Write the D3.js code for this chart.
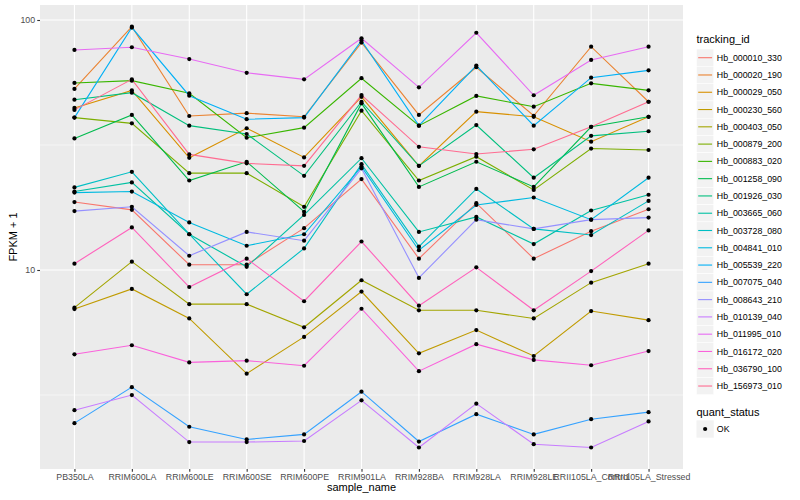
<!DOCTYPE html>
<html>
<head>
<meta charset="utf-8">
<script src="https://cdnjs.cloudflare.com/ajax/libs/d3/7.8.5/d3.min.js"></script>
<style>
  body { margin: 0; background: #ffffff; }
  text { font-family: "Liberation Sans", Arial, Helvetica, sans-serif; }
</style>
</head>
<body>
<script>
// categories on the x axis
var samples = ["PB350LA", "RRIM600LA", "RRIM600LE", "RRIM600SE", "RRIM600PE", "RRIM901LA",
    "RRIM928BA", "RRIM928LA", "RRIM928LE", "RRII105LA_Control", "RRII105LA_Stressed"];

// one line per transcript
var trackingIds = ["Hb_000010_330", "Hb_000020_190", "Hb_000029_050", "Hb_000230_560", "Hb_000403_050",
    "Hb_000879_200", "Hb_000883_020", "Hb_001258_090", "Hb_001926_030", "Hb_003665_060",
    "Hb_003728_080", "Hb_004841_010", "Hb_005539_220", "Hb_007075_040", "Hb_008643_210",
    "Hb_010139_040", "Hb_011995_010", "Hb_016172_020", "Hb_036790_100", "Hb_156973_010"];

// ggplot hue palette, 20 levels
var colours = ["#F8766D", "#EA8331", "#D89000", "#C09B00", "#A3A500", "#7CAE00", "#39B600", "#00BB4E",
    "#00BF7D", "#00C1A3", "#00BFC4", "#00BAE0", "#00B0F6", "#35A2FF", "#9590FF", "#C77CFF",
    "#E76BF3", "#FA62DB", "#FF62BC", "#FF6C91"];

// FPKM + 1, one row per tracking id, in sample order
var fpkm = [
    [18.7, 17.4, 10.5, 10.5, 14.7, 23.1, 11.1, 18.5, 11.1, 14.3, 17.5],
    [53.0, 94.0, 41.3, 42.4, 41.0, 81.2, 41.7, 64.7, 41.4, 78.2, 47.1],
    [44.5, 52.3, 28.1, 36.9, 28.2, 49.3, 26.1, 43.0, 41.0, 32.6, 41.0],
    [6.98, 8.4, 6.4, 3.85, 5.4, 8.2, 4.64, 5.75, 4.53, 6.85, 6.3],
    [7.07, 10.8, 7.3, 7.3, 5.9, 9.1, 6.9, 6.9, 6.4, 8.9, 10.6],
    [40.7, 38.6, 24.4, 24.4, 17.9, 43.4, 22.8, 28.4, 20.9, 30.6, 30.2],
    [56.0, 57.2, 50.9, 33.8, 37.1, 58.5, 37.8, 49.7, 45.0, 55.8, 52.3],
    [33.6, 41.7, 22.8, 27.1, 17.1, 46.4, 21.5, 27.1, 21.5, 37.4, 41.0],
    [48.0, 51.2, 37.8, 35.0, 23.8, 47.1, 26.1, 38.0, 23.4, 34.4, 35.9],
    [20.6, 22.4, 13.9, 10.3, 16.6, 28.0, 14.2, 16.3, 12.7, 17.3, 20.0],
    [21.4, 24.7, 13.9, 8.0, 12.2, 26.5, 12.4, 21.1, 14.6, 13.8, 18.9],
    [20.4, 20.6, 15.5, 12.5, 13.9, 25.9, 12.0, 18.2, 19.5, 15.9, 23.4],
    [40.7, 93.3, 49.8, 40.1, 40.7, 82.7, 37.8, 65.7, 37.8, 58.8, 62.9],
    [2.44, 3.4, 2.36, 2.10, 2.2, 3.26, 2.06, 2.65, 2.2, 2.53, 2.70],
    [17.2, 17.9, 11.4, 14.2, 13.1, 25.5, 9.3, 15.9, 14.6, 15.9, 16.2],
    [2.75, 3.16, 2.05, 2.05, 2.07, 3.01, 1.95, 2.92, 2.01, 1.95, 2.48],
    [75.9, 77.8, 69.8, 61.5, 57.9, 84.5, 53.8, 88.9, 50.0, 69.2, 78.2],
    [4.6, 5.0, 4.27, 4.34, 4.14, 7.0, 3.94, 5.05, 4.37, 4.16, 4.74],
    [10.6, 14.8, 8.55, 11.1, 7.5, 13.0, 7.2, 10.25, 6.9, 9.9, 14.4],
    [43.7, 57.9, 29.0, 26.7, 26.1, 50.1, 31.1, 29.1, 30.4, 37.4, 47.1]
];

var yTicks = [10, 100];
var yMinorTicks = [Math.sqrt(10), Math.sqrt(1000)];
var yDomain = [Math.pow(10, 0.204), Math.pow(10, 2.06)];
var statusLevels = ["OK"];

var panelLeft = 40, panelRight = 683, panelTop = 5, panelBottom = 469;
var textGrey = "#4D4D4D";

var svg = d3.select("body")
    .append("svg")
    .attr("width", 800)
    .attr("height", 500);

var x = d3.scalePoint()
    .domain(samples)
    .range([panelLeft, panelRight])
    .padding(0.6);

var y = d3.scaleLog()
    .domain(yDomain)
    .range([panelBottom, panelTop]);

// panel
svg.append("rect")
    .attr("x", panelLeft)
    .attr("y", panelTop)
    .attr("width", panelRight - panelLeft)
    .attr("height", panelBottom - panelTop)
    .attr("fill", "#EBEBEB");

var grid = svg.append("g");
yMinorTicks.forEach(function (t) {
    grid.append("line")
        .attr("x1", panelLeft).attr("x2", panelRight)
        .attr("y1", y(t)).attr("y2", y(t))
        .attr("stroke", "#ffffff")
        .attr("stroke-width", 0.55);
});
yTicks.forEach(function (t) {
    grid.append("line")
        .attr("x1", panelLeft).attr("x2", panelRight)
        .attr("y1", y(t)).attr("y2", y(t))
        .attr("stroke", "#ffffff")
        .attr("stroke-width", 1.1);
});
samples.forEach(function (s) {
    grid.append("line")
        .attr("x1", x(s)).attr("x2", x(s))
        .attr("y1", panelTop).attr("y2", panelBottom)
        .attr("stroke", "#ffffff")
        .attr("stroke-width", 1.1);
});

// lines
var line = d3.line()
    .x(function (d, i) { return x(samples[i]); })
    .y(function (d) { return y(d); });

var lines = svg.append("g");
fpkm.forEach(function (row, k) {
    lines.append("path")
        .attr("d", line(row))
        .attr("fill", "none")
        .attr("stroke", colours[k])
        .attr("stroke-width", 1.1);
});

// points
var pts = svg.append("g");
fpkm.forEach(function (row) {
    row.forEach(function (v, i) {
        pts.append("circle")
            .attr("cx", x(samples[i]))
            .attr("cy", y(v))
            .attr("r", 2.1)
            .attr("fill", "#000000");
    });
});

// axes
var yAxis = svg.append("g")
    .attr("transform", "translate(" + panelLeft + ",0)")
    .call(d3.axisLeft(y).tickValues(yTicks).tickFormat(d3.format("d")).tickSize(2.75).tickPadding(2.2));
var xAxis = svg.append("g")
    .attr("transform", "translate(0," + panelBottom + ")")
    .call(d3.axisBottom(x).tickSize(2.75).tickPadding(2.2));
[yAxis, xAxis].forEach(function (a) {
    a.select(".domain").remove();
    a.selectAll(".tick line").attr("stroke", "#333333").attr("stroke-width", 1.1);
    a.selectAll(".tick text")
        .attr("fill", textGrey)
        .style("font-size", "8.8px")
        .style("font-family", "'Liberation Sans', Arial, sans-serif");
});

svg.append("text")
    .attr("x", (panelLeft + panelRight) / 2)
    .attr("y", 491)
    .attr("text-anchor", "middle")
    .style("font-size", "11px")
    .text("sample_name");

svg.append("text")
    .attr("transform", "translate(17," + ((panelTop + panelBottom) / 2) + ") rotate(-90)")
    .attr("text-anchor", "middle")
    .style("font-size", "11px")
    .text("FPKM + 1");

// legend: tracking_id
var lg = svg.append("g");
var keyX = 696.5, keySize = 17.28, firstKey = 57.7;
lg.append("text")
    .attr("x", 696.5)
    .attr("y", 43)
    .style("font-size", "11px")
    .text("tracking_id");
trackingIds.forEach(function (id, k) {
    var cy = firstKey + k * keySize;
    lg.append("rect")
        .attr("x", keyX)
        .attr("y", cy - keySize / 2)
        .attr("width", keySize)
        .attr("height", keySize)
        .attr("fill", "#F2F2F2")
        .attr("stroke", "#ffffff")
        .attr("stroke-width", 0.5);
    lg.append("line")
        .attr("x1", keyX + 1.7).attr("x2", keyX + keySize - 1.7)
        .attr("y1", cy).attr("y2", cy)
        .attr("stroke", colours[k])
        .attr("stroke-width", 1.1);
    lg.append("text")
        .attr("x", 716.8)
        .attr("y", cy + 3.1)
        .style("font-size", "8.8px")
        .text(id);
});

// legend: quant_status
lg.append("text")
    .attr("x", 696.5)
    .attr("y", 415.5)
    .style("font-size", "11px")
    .text("quant_status");
statusLevels.forEach(function (s, k) {
    var cy = 429 + k * keySize;
    lg.append("rect")
        .attr("x", keyX)
        .attr("y", cy - keySize / 2)
        .attr("width", keySize)
        .attr("height", keySize)
        .attr("fill", "#F2F2F2");
    lg.append("circle")
        .attr("cx", keyX + keySize / 2)
        .attr("cy", cy)
        .attr("r", 2.1)
        .attr("fill", "#000000");
    lg.append("text")
        .attr("x", 716.8)
        .attr("y", cy + 3.1)
        .style("font-size", "8.8px")
        .text(s);
});
</script>
</body>
</html>
